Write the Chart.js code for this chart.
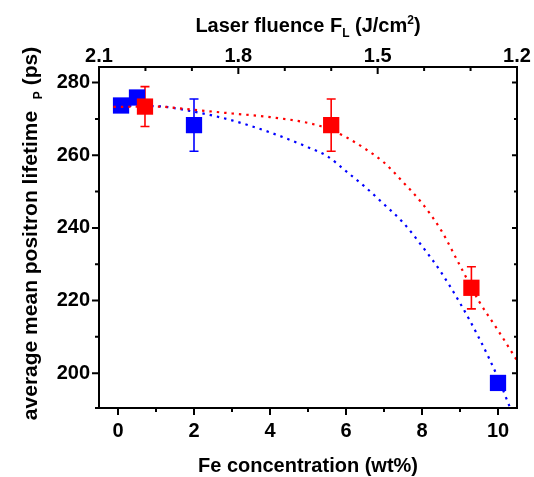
<!DOCTYPE html>
<html><head><meta charset="utf-8">
<script src="https://cdn.jsdelivr.net/npm/chart.js@4/dist/chart.umd.min.js"></script>
<style>html,body{margin:0;padding:0;background:#fff}#wrap{width:534px;height:477px;position:relative}</style>
</head><body><div id="wrap"><canvas id="c" width="534" height="477"></canvas></div>
<script>
// ---- data ----
const blueX = [0.08, 0.5, 2.0, 10.0];
const blueY = [273.7, 275.9, 268.3, 197.3];
const blueErr = [0, 0, 7.2, 0];
const redX = [0.71, 5.61, 9.3];
const redY = [273.4, 268.3, 223.5];
const redErr = [5.5, 7.2, 5.8];
const blueFitX = [-0.1, 1, 2, 3, 4, 5, 5.5, 6, 6.5, 7, 7.5, 8, 8.5, 9, 9.5, 10, 10.35];
const blueFitY = [273.6, 273.5, 272.0, 269.6, 266.3, 262.2, 259.8, 255.6, 251.3, 246.5, 241.5, 235.0, 227.8, 219.3, 209.7, 198.7, 189.6];
const redFitX = [-0.12, 1, 2, 3, 4, 5, 5.5, 6, 6.5, 7, 7.5, 8, 8.5, 9, 9.5, 10, 10.5];
const redFitY = [273.3, 273.4, 272.5, 271.5, 270.5, 268.9, 267.4, 265.0, 261.8, 258.0, 252.6, 246.8, 239.4, 229.6, 219.8, 211.8, 203.5];
const xTicks = [0, 2, 4, 6, 8, 10];
const yTicks = [200, 220, 240, 260, 280];
const topTicks = [2.1, 1.8, 1.5, 1.2];

const FONT = '"Liberation Sans", Arial, sans-serif';
const BLUE = '#0000ff', RED = '#ff0000';
const pts = (xs, ys) => xs.map((x, i) => ({x: x, y: ys[i]}));

const axesPlugin = {
  id: 'axesPlugin',
  beforeDatasetsDraw(chart) {
    const ctx = chart.ctx, sx = chart.scales.x, sy = chart.scales.y;
    ctx.save();
    [[blueX, blueY, blueErr, BLUE], [redX, redY, redErr, RED]].forEach(([xs, ys, es, col]) => {
      ctx.strokeStyle = col; ctx.lineWidth = 1.6;
      xs.forEach((x, i) => {
        if (!es[i]) return;
        const px = sx.getPixelForValue(x);
        const t = sy.getPixelForValue(ys[i] + es[i]);
        const b = sy.getPixelForValue(ys[i] - es[i]);
        ctx.beginPath();
        ctx.moveTo(px, t); ctx.lineTo(px, b);
        ctx.moveTo(px - 4.5, t); ctx.lineTo(px + 4.5, t);
        ctx.moveTo(px - 4.5, b); ctx.lineTo(px + 4.5, b);
        ctx.stroke();
      });
    });
    ctx.restore();
  },
  afterDraw(chart) {
    const ctx = chart.ctx, a = chart.chartArea;
    const sx = chart.scales.x, sx2 = chart.scales.x2, sy = chart.scales.y;
    ctx.save();
    ctx.strokeStyle = '#000'; ctx.lineWidth = 2;
    ctx.strokeRect(a.left, a.top, a.right - a.left, a.bottom - a.top);
    ctx.beginPath();
    ctx.moveTo(a.left - 4, a.bottom); ctx.lineTo(a.left, a.bottom);
    for (let v = 0; v <= 10; v++) {
      const p = sx.getPixelForValue(v), L = v % 2 === 0 ? 7 : 4;
      ctx.moveTo(p, a.bottom); ctx.lineTo(p, a.bottom + L);
    }
    for (let i = 12; i <= 21; i++) {
      const p = sx2.getPixelForValue(i / 10), L = (i % 3 === 0) ? 7 : 4;
      ctx.moveTo(p, a.top); ctx.lineTo(p, a.top + L);
    }
    for (let v = 200; v <= 280; v += 10) {
      const p = sy.getPixelForValue(v), L = v % 20 === 0 ? 7 : 4;
      ctx.moveTo(a.left, p); ctx.lineTo(a.left - L, p);
    }
    for (let v = 200; v <= 280; v += 10) {
      const p = sy.getPixelForValue(v), L = v % 20 === 0 ? 5 : 3;
      ctx.moveTo(a.right, p); ctx.lineTo(a.right - L, p);
    }
    ctx.stroke();

    ctx.fillStyle = '#000';
    ctx.textBaseline = 'alphabetic';
    const drawRuns = (runs, cx, by) => {
      let w = 0;
      runs.forEach(r => { ctx.font = 'bold ' + r.size + 'px ' + FONT; w += ctx.measureText(r.t).width; });
      let x = cx - w / 2;
      runs.forEach(r => {
        ctx.font = 'bold ' + r.size + 'px ' + FONT;
        ctx.textAlign = 'left';
        ctx.fillText(r.t, x, by + (r.dy || 0));
        x += ctx.measureText(r.t).width;
      });
    };
    const cx = (a.left + a.right) / 2;
    drawRuns([{t: 'Fe concentration (wt%)', size: 20}], cx, 472);
    drawRuns([{t: 'Laser fluence F', size: 20}, {t: 'L', size: 12, dy: 5},
              {t: ' (J/cm', size: 20}, {t: '2', size: 12, dy: -8}, {t: ')', size: 20}], cx, 32);
    ctx.save();
    ctx.translate(37, (a.top + a.bottom) / 2 - 4);
    ctx.rotate(-Math.PI / 2);
    drawRuns([{t: 'average mean positron lifetime  ', size: 21}, {t: 'P', size: 12, dy: 5},
              {t: ' (ps)', size: 21}], 0, 0);
    ctx.restore();
    ctx.restore();
  }
};

const tickFont = {family: FONT, size: 20, weight: 'bold'};
new Chart(document.getElementById('c'), {
  type: 'scatter',
  data: {
    datasets: [
      {label: 'red', data: pts(redX, redY), pointStyle: 'rect', pointRadius: 11.5, pointHoverRadius: 11.5,
       backgroundColor: RED, borderColor: RED, borderWidth: 0, order: 0},
      {label: 'redFit', data: pts(redFitX, redFitY), showLine: true, pointRadius: 0, borderColor: RED,
       borderWidth: 2.2, borderDash: [2.4, 5], cubicInterpolationMode: 'monotone', fill: false, order: 1},
      {label: 'blueFit', data: pts(blueFitX, blueFitY), showLine: true, pointRadius: 0, borderColor: BLUE,
       borderWidth: 2.2, borderDash: [2.4, 5], cubicInterpolationMode: 'monotone', fill: false, order: 2},
      {label: 'blue', data: pts(blueX, blueY), pointStyle: 'rect', pointRadius: 11.5, pointHoverRadius: 11.5,
       backgroundColor: BLUE, borderColor: BLUE, borderWidth: 0, order: 3}
    ]
  },
  options: {
    responsive: false, animation: false,
    layout: {padding: {left: 0, right: 17, top: 0, bottom: 0}},
    plugins: {legend: {display: false}, tooltip: {enabled: false}},
    scales: {
      x: {type: 'linear', position: 'bottom', min: -0.5, max: 10.5,
          afterBuildTicks: s => { s.ticks = xTicks.map(v => ({value: v})); },
          afterFit: s => { s.height = 69; },
          ticks: {font: tickFont, color: '#000', padding: 4, maxRotation: 0, callback: v => String(v)},
          grid: {display: true, drawOnChartArea: false, drawTicks: true, tickLength: 7, tickColor: 'rgba(0,0,0,0)'},
          border: {display: false}},
      x2: {type: 'linear', position: 'top', min: 1.2, max: 2.1, reverse: true,
          afterBuildTicks: s => { s.ticks = topTicks.map(v => ({value: v})); },
          afterFit: s => { s.height = 67; },
          ticks: {font: tickFont, color: '#000', padding: -1, maxRotation: 0, callback: v => v.toFixed(1)},
          grid: {display: true, drawOnChartArea: false, drawTicks: false},
          border: {display: false}},
      y: {type: 'linear', position: 'left', min: 190.4, max: 284.3,
          afterBuildTicks: s => { s.ticks = yTicks.map(v => ({value: v})); },
          afterFit: s => { s.width = 99; },
          ticks: {font: tickFont, color: '#000', padding: 2, callback: v => String(v)},
          grid: {display: true, drawOnChartArea: false, drawTicks: true, tickLength: 7, tickColor: 'rgba(0,0,0,0)'},
          border: {display: false}}
    }
  },
  plugins: [axesPlugin]
});
</script>
</body></html>
